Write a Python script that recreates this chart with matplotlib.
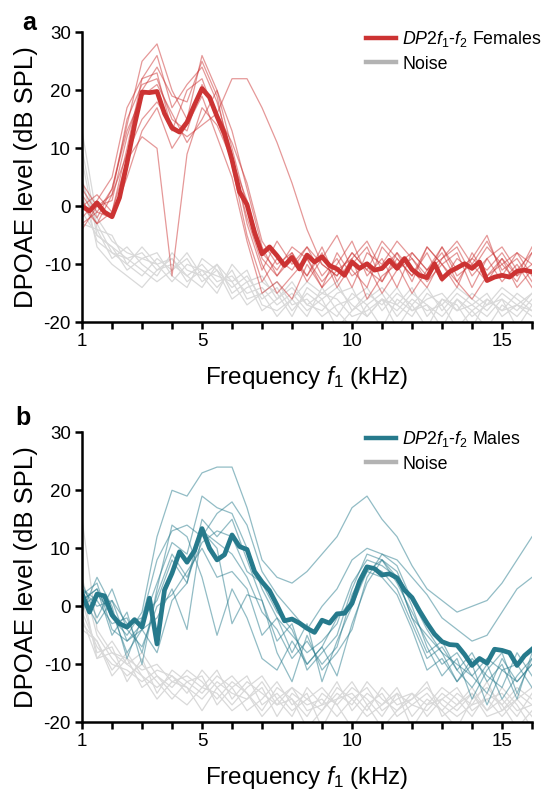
import numpy as np
import matplotlib
matplotlib.use("Agg")
import matplotlib.pyplot as plt
from matplotlib.lines import Line2D

plt.rcParams['font.family'] = ['Liberation Sans', 'DejaVu Sans']
plt.rcParams['mathtext.fontset'] = 'custom'
plt.rcParams['mathtext.rm'] = 'Liberation Sans'
plt.rcParams['mathtext.it'] = 'Liberation Sans:italic'
plt.rcParams['axes.unicode_minus'] = False

# frecuencias (kHz)
freq_mean = np.arange(1, 16.01, 0.25)
freq_ind = np.arange(1, 16.01, 0.5)

# promedio hembras
fem_mean = [0, -0.8, 0.6, -1.0, -1.8, 1.5, 7.5, 14, 19.7, 19.6, 19.8, 16, 13.5, 12.8, 14.5, 17.5,
            20.3, 18.8, 15.5, 12.5, 8, 2.5, 0.3, -4.5, -8.2, -7, -8.5, -10.2, -8.8, -10.8, -8.4,
            -9.6, -8.7, -10.2, -10.8, -11.9, -9.6, -10.7, -9.9, -11, -10.7, -9.3, -10.7, -9.0,
            -10.9, -11.9, -12.3, -9.9, -12.5, -11.3, -10.6, -9.9, -10.7, -9.6, -12.8, -12.2,
            -11.9, -12.2, -11.2, -11.0, -11.3]

# promedio machos
male_mean = [2.2, -1.0, 2.1, 1.8, -1.5, -3.0, -3.6, -2.3, -3.6, 1.4, -6.5, 2.8, 5.7, 9.4, 7.6, 9.6,
             13.4, 10, 8.0, 8.9, 12.3, 10.3, 9.8, 6, 4.2, 2.7, 0.2, -2.5, -2.2, -2.9, -3.8, -4.5,
             -2.4, -2.9, -1.3, -1.2, 0.5, 4.3, 6.8, 6.5, 5.4, 5.6, 4.9, 2.8, 1.5, -0.8, -2.9, -4.8,
             -6.1, -6.6, -6.7, -8.3, -10.2, -9.0, -9.8, -7.4, -7.6, -8.0, -10.2, -8.5, -7.4]

# individuales hembras
fem_ind = [
    [2, -2, 3, 14, 25, 28, 20, 15, 26, 20, 10, 0, -9, -12, -8, -12, -7, -13, -9, -6, -11, -8, -13, -7, -10, -8, -14, -9, -7, -11, -8],
    [-2, 1, 5, 17, 22, 26, 17, 21, 24, 18, 9, -3, -11, -6, -10, -7, -12, -9, -14, -8, -10, -6, -9, -12, -7, -11, -9, -5, -12, -8, -10],
    [4, 0, 2, 15, 21, 22, 15, 13, 21, 16, 11, 4, -6, -10, -8, -13, -9, -5, -11, -14, -7, -10, -8, -11, -9, -6, -10, -13, -9, -12, -7],
    [1, -3, -1, 8, 12, 10, -12, 9, 17, 14, 8, -2, -10, -15, -12, -9, -13, -10, -6, -12, -9, -14, -8, -11, -7, -12, -10, -6, -11, -9, -13],
    [0, -3, 2, 9, 15, 18, 14, 12, 14, 16, 22, 22, 17, 11, 4, -4, -10, -12, -8, -11, -13, -9, -12, -7, -10, -13, -9, -11, -8, -12, -10],
    [-4, 0, 1, 12, 20, 24, 19, 18, 25, 19, 7, -5, -13, -9, -11, -7, -10, -12, -8, -11, -6, -9, -12, -8, -13, -9, -11, -7, -10, -13, -8],
    [3, -1, -2, 5, 13, 17, 10, 14, 19, 12, 5, -6, -15, -13, -16, -10, -14, -11, -9, -16, -12, -10, -15, -11, -8, -13, -16, -12, -9, -14, -11],
    [0, 2, -1, 10, 22, 23, 13, 20, 22, 15, 8, 1, -8, -11, -7, -9, -14, -8, -12, -10, -15, -11, -9, -13, -10, -14, -8, -12, -10, -8, -12],
    [-3, -1, 3, 13, 19, 21, 16, 11, 15, 20, 13, 3, -7, -12, -9, -12, -8, -14, -10, -7, -13, -8, -11, -14, -9, -7, -12, -9, -13, -10, -14],
]

fem_noise = [
    [8, -5, -7, -9, -8, -11, -10, -12, -10, -13, -12, -15, -14, -17, -15, -18, -16, -14, -17, -19, -16, -18, -15, -17, -19, -16, -18, -21, -17, -19, -16],
    [2, -6, -8, -10, -12, -9, -11, -9, -13, -11, -14, -12, -16, -14, -18, -15, -17, -19, -15, -17, -21, -16, -18, -16, -15, -18, -17, -15, -19, -17, -18],
    [-3, -4, -9, -7, -10, -12, -8, -11, -12, -10, -15, -13, -12, -16, -14, -17, -15, -13, -18, -16, -14, -17, -19, -15, -17, -14, -16, -18, -15, -17, -19],
    [13, -2, -6, -8, -9, -10, -13, -10, -11, -14, -11, -16, -15, -13, -17, -16, -19, -17, -16, -14, -18, -15, -17, -21, -16, -18, -15, -17, -16, -18, -15],
    [5, -7, -10, -12, -14, -11, -9, -13, -11, -12, -13, -11, -17, -18, -16, -19, -14, -18, -21, -17, -15, -19, -16, -18, -17, -21, -18, -16, -18, -15, -17],
    [-1, -5, -7, -11, -9, -8, -12, -14, -9, -11, -16, -14, -13, -15, -19, -14, -16, -21, -18, -15, -17, -14, -18, -17, -21, -16, -19, -17, -14, -16, -18],
    [4, -3, -8, -9, -11, -13, -11, -8, -12, -15, -10, -13, -18, -16, -13, -17, -18, -15, -14, -19, -16, -21, -17, -14, -18, -15, -17, -19, -16, -21, -17],
    [10, -4, -5, -10, -7, -10, -9, -12, -14, -10, -13, -17, -15, -19, -16, -13, -15, -16, -19, -18, -16, -17, -14, -19, -16, -17, -21, -16, -18, -17, -15],
]

# individuales machos
male_ind = [
    [1, 3, -2, -5, -1, 12, 20, 19, 23, 24, 24, 17, 8, 5, 4, 6, 9, 12, 17, 19, 15, 12, 7, 3, 1, -1, 0, 1, 4, 8, 12],
    [3, 0, 1, -3, -2, 8, 13, 14, 12, 16, 18, 14, 6, 2, -1, -4, 0, 3, 8, 10, 9, 8, 5, 2, -2, -4, -6, -5, -1, 3, 5],
    [2, 4, -4, -6, -3, 4, 11, 9, 19, 17, 16, 10, 3, -2, -5, -8, -6, -3, 4, 8, 7, 5, -2, -5, -8, -10, -12, -9, -11, -13, -10],
    [0, 2, -1, -8, -4, -2, 3, -4, 13, 11, 9, 5, -1, -4, -9, -6, -10, -7, 2, 7, 6, 3, -3, -9, -7, -11, -14, -10, -16, -12, -9],
    [-1, 5, 0, -9, -2, 1, 8, 4, 15, 12, 15, 8, 1, -6, -3, -11, -8, -5, 3, 9, 8, 4, -1, -6, -10, -8, -12, -15, -9, -13, -10],
    [4, -2, 3, -4, -7, 0, 2, 6, 10, 5, 6, 3, -5, -2, -8, -3, -13, -6, 0, 6, 5, 2, -4, -11, -9, -13, -9, -12, -14, -8, -12],
    [1, 3, -5, -1, -10, 3, 14, 12, 5, -5, 3, -2, -9, -11, -6, -10, -7, -12, -3, 4, 8, 6, 0, -7, -12, -9, -16, -11, -8, -15, -9],
    [2, -3, 1, -6, -4, -8, 1, 4, 13, 10, -3, 2, 1, -8, -13, -5, -11, -8, -4, 5, 9, 7, 1, -4, -8, -13, -10, -17, -11, -10, -14],
    [3, 1, -3, -2, -8, 2, 9, 5, 11, 13, 12, 6, 4, -1, -4, -10, -7, -2, 1, 6, 8, 5, -2, -8, -6, -11, -8, -13, -10, -16, -8],
]

male_noise = [
    [15, -4, -8, -9, -11, -10, -13, -12, -14, -11, -16, -13, -15, -17, -14, -16, -18, -15, -17, -13, -16, -18, -15, -17, -14, -16, -19, -15, -17, -14, -16],
    [-2, -9, -6, -10, -8, -12, -14, -11, -13, -16, -13, -15, -18, -14, -16, -19, -15, -17, -14, -16, -19, -15, -17, -18, -15, -17, -14, -18, -16, -19, -15],
    [-3, -6, -11, -8, -12, -14, -12, -15, -11, -14, -17, -14, -12, -16, -19, -14, -17, -13, -18, -15, -17, -14, -19, -16, -18, -15, -17, -13, -18, -15, -17],
    [5, -5, -9, -12, -10, -13, -16, -13, -15, -12, -14, -18, -16, -13, -17, -15, -21, -16, -15, -18, -14, -17, -16, -13, -19, -17, -15, -18, -14, -17, -21],
    [-1, -7, -10, -11, -13, -11, -12, -14, -16, -13, -15, -16, -14, -19, -15, -17, -16, -19, -16, -14, -18, -16, -15, -19, -16, -14, -18, -16, -19, -16, -14],
    [1, -8, -7, -13, -9, -15, -11, -13, -12, -17, -14, -12, -17, -15, -18, -16, -14, -17, -21, -17, -15, -19, -17, -15, -18, -21, -16, -14, -17, -21, -18],
    [-4, -6, -12, -9, -14, -12, -15, -17, -14, -15, -18, -16, -13, -17, -16, -21, -18, -14, -16, -19, -17, -15, -21, -17, -16, -18, -15, -19, -18, -16, -19],
    [3, -9, -8, -10, -12, -16, -13, -14, -18, -14, -12, -15, -19, -16, -14, -18, -17, -16, -13, -17, -21, -18, -16, -14, -17, -19, -17, -16, -15, -18, -17],
]

red = '#cc3333'
teal = '#267a8c'
noise_col = '#d9d9d9'

xticks = list(range(1, 17))
xlabels = [str(t) if t in (1, 5, 10, 15) else '' for t in xticks]


def panel(ax, ind, noise, mean, col, label):
    for n in noise:
        ax.plot(freq_ind, n, color=noise_col, lw=0.9)
    for s in ind:
        ax.plot(freq_ind, s, color=col, lw=0.9, alpha=0.5)
    ax.plot(freq_mean, mean, color=col, lw=3.4, solid_joinstyle='round')
    ax.set_xlim(1, 16)
    ax.set_ylim(-20, 30)
    ax.set_yticks([-20, -10, 0, 10, 20, 30])
    ax.set_xticks(xticks)
    ax.set_xticklabels(xlabels)
    ax.spines['top'].set_visible(False)
    ax.spines['right'].set_visible(False)
    ax.spines['left'].set_linewidth(1.8)
    ax.spines['bottom'].set_linewidth(1.8)
    ax.tick_params(direction='out', length=5, width=1.8, labelsize=13.5, pad=3)
    ax.set_xlabel(r'Frequency $\mathit{f_1}$ (kHz)', fontsize=17.5, labelpad=10)
    ax.set_ylabel('DPOAE level (dB SPL)', fontsize=18.5, labelpad=4)
    handles = [Line2D([], [], color=col, lw=3.2), Line2D([], [], color='#b3b3b3', lw=3.2)]
    ax.legend(handles, [label, 'Noise'], loc='upper left', bbox_to_anchor=(0.631, 1.01),
              frameon=False, fontsize=12.8, handlelength=1.7, handletextpad=0.35,
              labelspacing=0.35, borderaxespad=0, borderpad=0)


fig = plt.figure(figsize=(5.41, 7.90), dpi=100)
ax1 = fig.add_axes([0.1516, 0.592, 0.8318, 0.3671])
ax2 = fig.add_axes([0.1516, 0.0857, 0.8318, 0.3671])

panel(ax1, fem_ind, fem_noise, fem_mean, red, r'$\mathit{DP2f_1}$-$\mathit{f_2}$ Females')
panel(ax2, male_ind, male_noise, male_mean, teal, r'$\mathit{DP2f_1}$-$\mathit{f_2}$ Males')

fig.text(29.5 / 541, 1 - 30 / 790, 'a', fontsize=18, fontweight='bold', ha='center', va='baseline')
fig.text(22.5 / 541, 1 - 425 / 790, 'b', fontsize=18, fontweight='bold', ha='center', va='baseline')

plt.savefig('out.png', dpi=100)
